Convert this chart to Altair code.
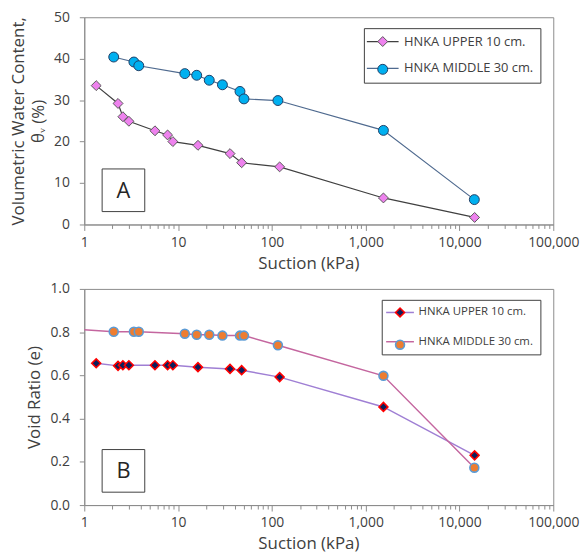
import math
import altair as alt
import pandas as pd

SERIES = ["HNKA UPPER 10 cm.", "HNKA MIDDLE 30 cm."]

# ---- Panel A: volumetric water content (%) vs suction (kPa)
upper_suction = [1.34, 2.29, 2.58, 2.99, 5.67, 7.73, 8.8, 16.3, 35.8, 47.6, 121, 1546, 14500]
upper_theta = [33.5, 29.2, 26.0, 24.9, 22.6, 21.6, 20.0, 19.1, 17.1, 14.9, 13.9, 6.4, 1.7]
middle_suction = [2.06, 3.38, 3.81, 11.8, 15.8, 21.5, 29.7, 45.7, 50.4, 116, 1546, 14400]
middle_theta = [40.4, 39.2, 38.3, 36.4, 36.0, 34.8, 33.7, 32.1, 30.3, 29.9, 22.7, 6.0]

# ---- Panel B: void ratio vs suction (kPa)
upper_e = [0.656, 0.644, 0.647, 0.647, 0.647, 0.647, 0.647, 0.638, 0.630, 0.624, 0.592, 0.454, 0.230]
middle_suction_b = [0.5, 2.06, 3.38, 3.81, 11.8, 15.8, 21.5, 29.7, 45.7, 50.4, 116, 1546, 14400]
middle_e = [0.820, 0.802, 0.802, 0.802, 0.793, 0.788, 0.788, 0.784, 0.784, 0.784, 0.739, 0.598, 0.173]

x_decades = [1, 10, 100, 1000, 10000, 100000]
x_ticks = [m * d for d in x_decades[:-1] for m in range(1, 10)] + [x_decades[-1]]
theta_ticks = [0, 10, 20, 30, 40, 50]
e_ticks = [0.0, 0.2, 0.4, 0.6, 0.8, 1.0]

FONT = "Open Sans"
TXT = "#404040"
GRID = "#8c8c8c"
DEC_TEST = "indexof([1,10,100,1000,10000,100000], datum.value) >= 0"


def make_df(su, vu, sm, vm):
    rows = [{"suction": s, "value": v, "series": SERIES[0]} for s, v in zip(su, vu)]
    rows += [{"suction": s, "value": v, "series": SERIES[1]} for s, v in zip(sm, vm)]
    df = pd.DataFrame(rows)
    df["series_l"] = df["series"]
    return df


def panel(df, ytitle, ydom, yvals, yfmt, height, line_colors, fills, strokes,
          shapes, msize, mstroke, lw, tag, tag_y, leg_x, leg_y, leg_font,
          leg_row_pad, sym_off, lab_off, line_half):
    xaxis = alt.Axis(values=x_ticks, format=",d", labelExpr=f"{DEC_TEST} ? datum.label : ''",
                     labelFlush=False, labelOverlap=False, grid=False,
                     tickSize={"condition": {"test": DEC_TEST, "value": 6}, "value": 4},
                     labelPadding=5, title="Suction (kPa)", titlePadding=6,
                     titleX=226)
    yaxis = alt.Axis(values=yvals, format=yfmt, grid=False, tickSize=5,
                     labelPadding=10, title=ytitle, titlePadding=6, titleLineHeight=20)
    x = alt.X("suction:Q", scale=alt.Scale(type="log", domain=[1, 100000], nice=False),
              axis=xaxis)
    y = alt.Y("value:Q", scale=alt.Scale(domain=ydom, nice=False, zero=False), axis=yaxis)

    # make both overlaid legends reserve the same symbol column width
    line_size = (math.sqrt(msize) + mstroke - lw) ** 2
    r = math.sqrt(line_size) / 2
    line_path = f"M{-line_half / r:.3f},0H{line_half / r:.3f}"

    common_leg = dict(orient="none", legendX=leg_x, legendY=leg_y, title=None,
                      labelFont=FONT, labelFontSize=leg_font, padding=7,
                      rowPadding=leg_row_pad, symbolOffset=sym_off, labelOffset=lab_off)
    line_leg = alt.Legend(symbolType=line_path, symbolSize=line_size, symbolStrokeWidth=lw,
                          labelColor=TXT, strokeColor="#404040", **common_leg)
    pt_leg = alt.Legend(symbolSize=msize, symbolStrokeWidth=mstroke, symbolOpacity=1,
                        labelOpacity=0, **common_leg)

    base = alt.Chart(df)
    lines = base.mark_line(clip=True, strokeWidth=lw).encode(
        x=x, y=y,
        color=alt.Color("series_l:N", sort=SERIES, scale=alt.Scale(range=line_colors),
                        legend=line_leg),
    )
    pts = base.mark_point(filled=True, clip=True, size=msize, strokeWidth=mstroke,
                          opacity=1).encode(
        x=x, y=y,
        shape=alt.Shape("series:N", scale=alt.Scale(domain=SERIES, range=shapes), legend=pt_leg),
        fill=alt.Fill("series:N", scale=alt.Scale(domain=SERIES, range=fills), legend=pt_leg),
        stroke=alt.Stroke("series:N", scale=alt.Scale(domain=SERIES, range=strokes), legend=pt_leg),
    )
    tag_df = pd.DataFrame({"tag": [tag]})
    box = alt.Chart(tag_df).mark_rect(fill="white", stroke="#404040", strokeWidth=1).encode(
        x=alt.value(18), x2=alt.value(61), y=alt.value(tag_y), y2=alt.value(tag_y + 43))
    txt = alt.Chart(tag_df).mark_text(font=FONT, fontSize=22, color="#262626",
                                      baseline="middle", align="center").encode(
        text="tag:N", x=alt.value(39.5), y=alt.value(tag_y + 22))
    return alt.layer(lines, pts, box, txt).properties(width=473, height=height)


df_a = make_df(upper_suction, upper_theta, middle_suction, middle_theta)
df_b = make_df(upper_suction, upper_e, middle_suction_b, middle_e)

chart_a = panel(df_a, ["Volumetric Water Content,", "θᵥ (%)"], [0, 50], theta_ticks, "d", 209,
                ["#404040", "#4f6a8f"], ["#ee82ee", "#00b0f0"], ["#595959", "#1f3f66"],
                ["diamond", "circle"], 100, 1, 1.2, "A", 153, 282, 11, 13, 13,
                5.5, 15, 16)
chart_b = panel(df_b, "Void Ratio (e)", [0, 1], e_ticks, ".1f", 218,
                ["#9f7fd4", "#c4669f"], ["#0d1f5c", "#ed7d31"], ["#ff0000", "#5b9bd5"],
                ["diamond", "circle"], 81, 1.6, 1.5, "B", 162, 300, 11, 11.5, 16.5,
                5.7, 13, 14)

chart = alt.vconcat(chart_a, chart_b, spacing=65, bounds="flush").resolve_scale(
    color="independent", fill="independent", stroke="independent", shape="independent",
    x="independent", y="independent",
).resolve_legend(
    color="independent", fill="independent", stroke="independent", shape="independent",
).properties(
    padding={"left": 9, "top": 7, "right": 5, "bottom": 5}, background="white"
).configure_view(stroke=GRID, strokeWidth=1).configure_axis(
    labelFont=FONT, labelFontSize=14, labelColor=TXT, titleFont=FONT, titleFontSize=17,
    titleFontWeight="normal", titleColor=TXT, domainColor=GRID, tickColor=GRID,
)

chart.save("out.html", embed_options={"renderer": "svg", "actions": False})
